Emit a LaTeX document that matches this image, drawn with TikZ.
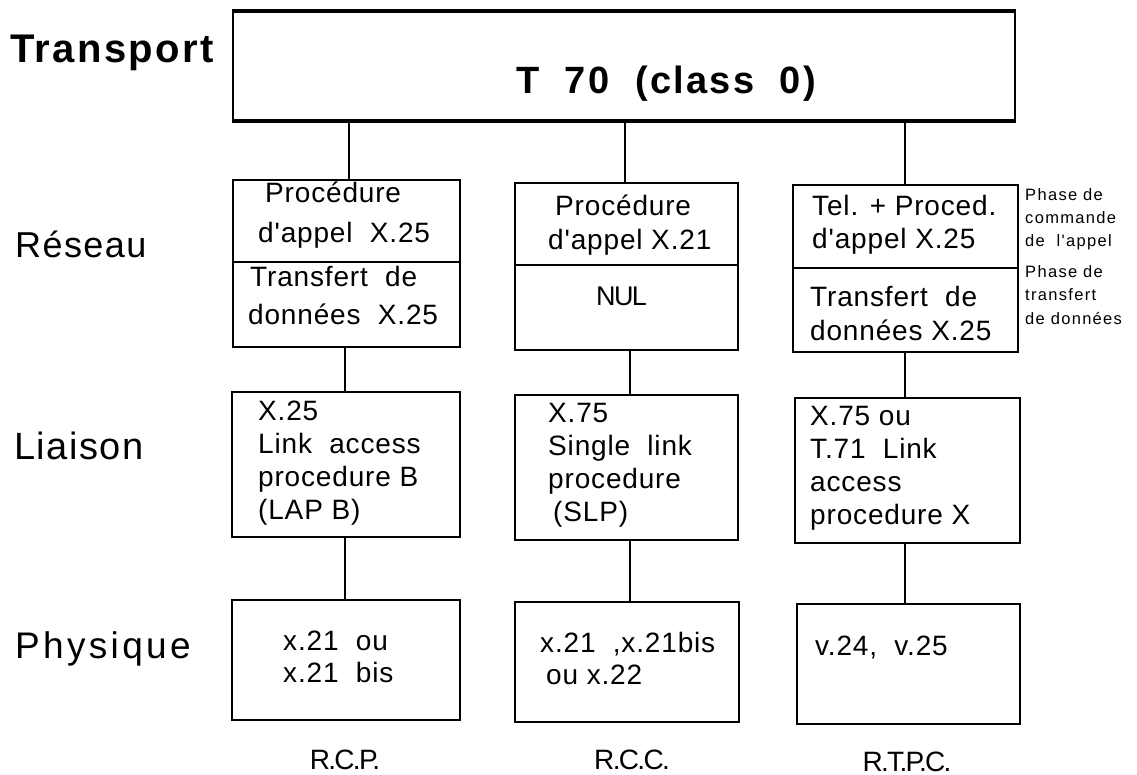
\documentclass[tikz,border=0pt]{standalone}
\usepackage{fontspec}
\setmainfont{Liberation Sans}
\newfontfamily\boxfam[LetterSpace=3]{Liberation Sans}
\newfontfamily\notefam[LetterSpace=8]{Liberation Sans}
\newfontfamily\labfam[LetterSpace=-6]{Liberation Sans}
\newfontfamily\layfam[LetterSpace=4]{Liberation Sans}
\newfontfamily\phyfam[LetterSpace=9]{Liberation Sans}
\newfontfamily\trfam[LetterSpace=6]{Liberation Sans}
\begin{document}
\begin{tikzpicture}[x=1pt,y=-1pt,
  box/.style={draw, line width=1.8pt, inner sep=0pt},
  bigbox/.style={draw, line width=2pt, inner sep=0pt},
  thickedge/.style={line width=3.6pt},
  conn/.style={line width=1.3pt},
  txt/.style={anchor=base west, inner sep=0pt, font=\boxfam\fontsize{28}{32}\selectfont},
  note/.style={anchor=base west, inner sep=0pt, font=\notefam\fontsize{16.5}{20}\selectfont},
  layer/.style={anchor=base west, inner sep=0pt, font=\layfam\fontsize{36}{40}\selectfont},
  net/.style={anchor=base, inner sep=0pt, font=\labfam\fontsize{28}{32}\selectfont}]
\useasboundingbox (0,0) rectangle (1137,775);
\fill[white] (0,0) rectangle (1137,775);

% Transport layer
\node[bigbox, minimum width=782, minimum height=108] (T) at (624,66) {};
\draw[thickedge] (T.north west) -- (T.north east);
\draw[thickedge] (T.south west) -- (T.south east);
\node[anchor=base west, inner sep=0pt, font=\trfam\bfseries\fontsize{40}{44}\selectfont] (tr) at (10,63) {Transport};
\node[anchor=base, inner sep=0pt, font=\trfam\bfseries\fontsize{38}{42}\selectfont] (t70) at (666,94) {T\ \ 70\ \ (class\ \ 0)};

% layer labels
\node[layer] (res) at (15,258) {Réseau};
\node[layer, font=\layfam\fontsize{38}{42}\selectfont] (lia) at (14,459) {Liaison};
\node[layer, font=\phyfam\fontsize{37}{40}\selectfont] (phy) at (15,658) {Physique};

% Réseau boxes
\node[box, minimum width=227, minimum height=82] (a1) at (346.5,221) {};
\node[box, minimum width=227, minimum height=85] (a2) at (346.5,304.5) {};
\node[box, minimum width=223, minimum height=82] (b1) at (626.5,224) {};
\node[box, minimum width=223, minimum height=85] (b2) at (626.5,307.5) {};
\node[box, minimum width=225, minimum height=83] (c1) at (905.5,226.5) {};
\node[box, minimum width=225, minimum height=84] (c2) at (905.5,310) {};

\node[txt] (a1t1) at (265,203) {Procédure};
\node[txt] (a1t2) at (258,243) {d'appel\ \ X.25};
\node[txt] (a2t1) at (250,287) {Transfert\ \ de};
\node[txt] (a2t2) at (248,325) {données\ \ X.25};

\node[txt] (b1t1) at (555,216) {Procédure};
\node[txt] (b1t2) at (548,250) {d'appel X.21};
\node[txt, font=\labfam\fontsize{27}{30}\selectfont] (b2t1) at (596,306) {NUL};

\node[txt] (c1t1) at (812,216) {Tel. + Proced.};
\node[txt] (c1t2) at (812,249) {d'appel X.25};
\node[txt] (c2t1) at (810,307) {Transfert\ \ de};
\node[txt] (c2t2) at (810,341) {données X.25};

\node[note] (n1) at (1025,201) {Phase de};
\node[note] (n2) at (1025,224) {commande};
\node[note] (n3) at (1025,247) {de\ \ l'appel};
\node[note] (n4) at (1025,278) {Phase de};
\node[note] (n5) at (1025,301) {transfert};
\node[note] (n6) at (1025,324) {de données};

% Liaison boxes
\node[box, minimum width=228, minimum height=145] (d) at (346,464.5) {};
\node[box, minimum width=223, minimum height=145] (e) at (626.5,467.5) {};
\node[box, minimum width=225, minimum height=145] (f) at (907.5,470.5) {};

\node[txt] (dt1) at (258,420) {X.25};
\node[txt] (dt2) at (258,453) {Link\ \ access};
\node[txt] (dt3) at (258,486) {procedure B};
\node[txt] (dt4) at (258,519) {(LAP B)};

\node[txt] (et1) at (548,422) {X.75};
\node[txt] (et2) at (548,455) {Single\ \ link};
\node[txt] (et3) at (548,488) {procedure};
\node[txt] (et4) at (553,521) {(SLP)};

\node[txt] (ft1) at (810,425) {X.75 ou};
\node[txt] (ft2) at (810,458) {T.71\ \ Link};
\node[txt] (ft3) at (810,491) {access};
\node[txt] (ft4) at (810,524) {procedure X};

% Physique boxes
\node[box, minimum width=228, minimum height=120] (g) at (346,660) {};
\node[box, minimum width=224, minimum height=120] (h) at (627,662) {};
\node[box, minimum width=223, minimum height=120] (i) at (908.5,664) {};

\node[txt] (gt1) at (283,650) {x.21\ \ ou};
\node[txt] (gt2) at (283,682) {x.21\ \ bis};
\node[txt] (ht1) at (540,652) {x.21\ \ ,x.21bis};
\node[txt] (ht2) at (546,684) {ou x.22};
\node[txt] (it1) at (815,655) {v.24,\ \ v.25};

% network labels
\node[net] (rcp) at (345,769) {R.C.P.};
\node[net] (rcc) at (632,769) {R.C.C.};
\node[net] (rtpc) at (907,771) {R.T.P.C.};

% connectors
\draw[conn] (T.south -| 349,0) -- (a1.north -| 349,0);
\draw[conn] (T.south -| 625,0) -- (b1.north -| 625,0);
\draw[conn] (T.south -| 905,0) -- (c1.north -| 905,0);
\draw[conn] (a2.south -| 345,0) -- (d.north -| 345,0);
\draw[conn] (b2.south -| 630,0) -- (e.north -| 630,0);
\draw[conn] (c2.south -| 905,0) -- (f.north -| 905,0);
\draw[conn] (d.south -| 345,0) -- (g.north -| 345,0);
\draw[conn] (e.south -| 630,0) -- (h.north -| 630,0);
\draw[conn] (f.south -| 905,0) -- (i.north -| 905,0);
\end{tikzpicture}
\end{document}
